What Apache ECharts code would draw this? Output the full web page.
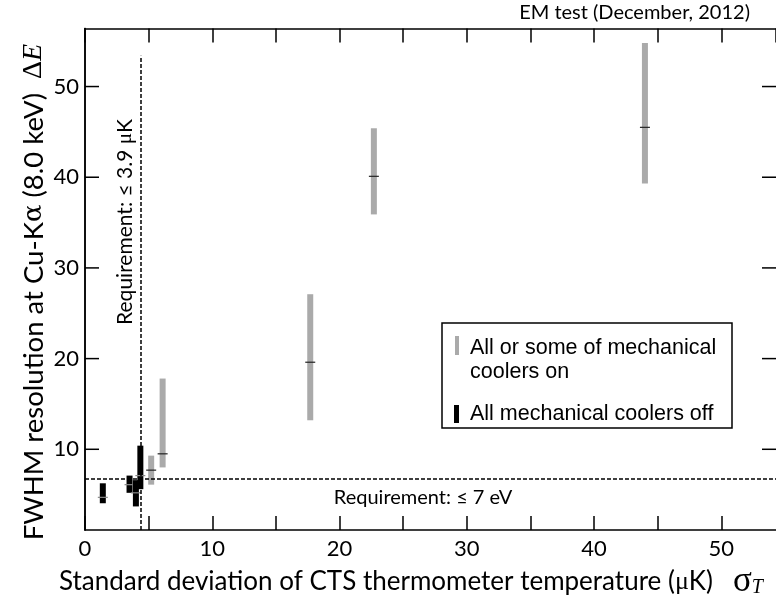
<!DOCTYPE html>
<html>
<head>
<meta charset="utf-8">
<script src="https://cdn.jsdelivr.net/npm/echarts@6/dist/echarts.min.js"></script>
<style>
html,body{margin:0;padding:0;background:#fff;}
#chart{width:776px;height:604px;}
</style>
</head>
<body>
<div id="chart"></div>
<script>
// ---- data ----
// mechanical coolers on (gray): x = sigma_T (uK), low/high/mid = Delta E (eV)
var grayX    = [5.2, 6.1, 17.7, 22.7, 44.0];
var grayLow  = [6.1, 8.0, 13.2, 35.9, 39.3];
var grayHigh = [9.3, 17.8, 27.1, 45.4, 54.8];
var grayMid  = [7.7, 9.5, 19.6, 40.1, 45.5];
// all mechanical coolers off (black)
var blackX    = [1.4, 3.5, 4.0, 4.35];
var blackLow  = [4.05, 5.2, 3.7, 5.6];
var blackHigh = [6.25, 7.1, 6.6, 10.4];
var blackMid  = [4.7, 6.1, 5.2, 7.1];
// requirements
var reqSigma = 4.35;   // vertical dashed line position
var reqSigmaTop = 53.4;
var reqDE = 6.8;       // horizontal dashed line position
// axes
var xMin = 0, xMax = 54.3, xTickStep = 5;
var yMin = 1.1, yMax = 56.4;
var yTicks = [10, 20, 30, 40, 50];

var chart = echarts.init(document.getElementById('chart'), null, {renderer: 'canvas'});

function makeData(xs, lo, hi, mid) {
  return xs.map(function (x, i) { return [x, lo[i], hi[i], mid[i]]; });
}
function barRenderer(fill, tick) {
  return function (params, api) {
    var x = api.value(0);
    var pLo = api.coord([x, api.value(1)]);
    var pHi = api.coord([x, api.value(2)]);
    var pMid = api.coord([x, api.value(3)]);
    return {
      type: 'group',
      children: [
        {type: 'rect', shape: {x: pLo[0] - 3, y: pHi[1], width: 6, height: pLo[1] - pHi[1]}, style: {fill: fill}},
        {type: 'line', shape: {x1: pMid[0] - 5, y1: pMid[1], x2: pMid[0] + 5, y2: pMid[1]}, style: {stroke: tick, lineWidth: 1.2}}
      ]
    };
  };
}
// inward y ticks on left and right frame, placed through the axis scale
function yTickRenderer(params, api) {
  var v = api.value(1);
  var pl = api.coord([xMin, v]);
  var pr = api.coord([xMax, v]);
  return {
    type: 'group',
    children: [
      {type: 'line', shape: {x1: pl[0], y1: pl[1], x2: pl[0] + 14, y2: pl[1]}, style: {stroke: '#000', lineWidth: 1.5}},
      {type: 'line', shape: {x1: pr[0] - 14, y1: pr[1], x2: pr[0], y2: pr[1]}, style: {stroke: '#000', lineWidth: 1.5}}
    ]
  };
}

var axisLineStyle = {color: '#000', width: 1.5};
var labelFont = {fontFamily: 'Lato', fontSize: 22, color: '#000'};

var option = {
  animation: false,
  backgroundColor: '#fff',
  grid: {left: 85, right: -5, top: 28.5, bottom: 74, containLabel: false},
  xAxis: [
    {type: 'value', position: 'bottom', min: xMin, max: xMax, interval: xTickStep,
     axisLine: {show: true, lineStyle: axisLineStyle},
     axisTick: {show: true, inside: true, length: 14, lineStyle: axisLineStyle},
     axisLabel: Object.assign({margin: 8, showMaxLabel: false,
       formatter: function (v) { return (Math.abs(v % 10) < 1e-9) ? String(v) : ''; }}, labelFont),
     splitLine: {show: false}},
    {type: 'value', position: 'top', min: xMin, max: xMax, interval: xTickStep,
     axisLine: {show: true, lineStyle: axisLineStyle},
     axisTick: {show: true, inside: true, length: 14, lineStyle: axisLineStyle},
     axisLabel: {show: false}, splitLine: {show: false}}
  ],
  yAxis: [
    {type: 'value', position: 'left', min: yMin, max: yMax,
     axisLine: {show: true, lineStyle: axisLineStyle},
     axisTick: {show: false},
     axisLabel: Object.assign({margin: 6, customValues: yTicks}, labelFont),
     splitLine: {show: false}},
    {type: 'value', position: 'right', min: yMin, max: yMax,
     axisLine: {show: true, lineStyle: axisLineStyle},
     axisTick: {show: false},
     axisLabel: {show: false}, splitLine: {show: false}}
  ],
  series: [
    {name: 'All or some of mechanical coolers on', type: 'custom', xAxisIndex: 0, yAxisIndex: 0,
     renderItem: barRenderer('#aaaaaa', '#222'), data: makeData(grayX, grayLow, grayHigh, grayMid),
     markLine: {
       silent: true, symbol: 'none', label: {show: false},
       lineStyle: {color: '#000', type: [4, 2], width: 1.5},
       data: [
         [{coord: [reqSigma, yMin]}, {coord: [reqSigma, reqSigmaTop]}],
         [{coord: [xMin, reqDE]}, {coord: [xMax, reqDE]}]
       ]
     }},
    {name: 'All mechanical coolers off', type: 'custom', xAxisIndex: 0, yAxisIndex: 0,
     renderItem: barRenderer('#000000', '#888'), data: makeData(blackX, blackLow, blackHigh, blackMid)},
    {name: 'yticks', type: 'custom', xAxisIndex: 0, yAxisIndex: 0, silent: true, clip: false,
     renderItem: yTickRenderer, data: yTicks.map(function (v) { return [xMin, v]; })}
  ],
  graphic: [
    {type: 'text', right: 26, top: 3, style: {text: 'EM test (December, 2012)', font: '20px Lato', fill: '#000'}},
    // y axis title
    {type: 'text', x: 34, y: 292, rotation: Math.PI / 2,
     style: {text: '{a|FWHM resolution at Cu-K}{g|α}{a| (8.0 keV)  }{d|Δ}{e|E}', align: 'center', verticalAlign: 'middle',
       rich: {
         a: {fontFamily: 'Lato', fontSize: 27.5, fill: '#000'},
         g: {fontFamily: 'DejaVu Serif', fontSize: 26, fill: '#000'},
         d: {fontFamily: 'Liberation Serif', fontSize: 28, fill: '#000'},
         e: {fontFamily: 'Liberation Serif', fontStyle: 'italic', fontSize: 28, fill: '#000'}
       }}},
    // x axis title
    {type: 'text', x: 411, y: 582,
     style: {text: '{a|Standard deviation of CTS thermometer temperature (}{m|μ}{a|K)   }{s|σ}{t|T}', align: 'center', verticalAlign: 'middle',
       rich: {
         a: {fontFamily: 'Lato', fontSize: 26, fill: '#000'},
         m: {fontFamily: 'Liberation Serif', fontSize: 26, fill: '#000'},
         s: {fontFamily: 'Liberation Serif', fontSize: 35, fill: '#000'},
         t: {fontFamily: 'Liberation Serif', fontStyle: 'italic', fontSize: 20, fill: '#000', padding: [12, 0, 0, 0]}
       }}},
    // requirement labels
    {type: 'text', x: 125, y: 222, rotation: Math.PI / 2,
     style: {text: '{a|Requirement: ≤ 3.9 }{m|μ}{a|K}', align: 'center', verticalAlign: 'middle',
       rich: {a: {fontFamily: 'Lato', fontSize: 21, fill: '#000'}, m: {fontFamily: 'Liberation Serif', fontSize: 21, fill: '#000'}}}},
    {type: 'text', x: 423, y: 498,
     style: {text: 'Requirement: ≤ 7 eV', font: '20px Lato', fill: '#000', align: 'center', verticalAlign: 'middle'}},
    // legend
    {type: 'rect', shape: {x: 442, y: 323, width: 290, height: 105}, style: {fill: '#fff', stroke: '#000', lineWidth: 1.5}, z: 10},
    {type: 'rect', shape: {x: 455, y: 336, width: 4, height: 19}, style: {fill: '#aaaaaa'}, z: 11},
    {type: 'text', x: 470, y: 348, style: {text: 'All or some of mechanical', font: '21.5px "Liberation Sans"', fill: '#000', verticalAlign: 'middle'}, z: 11},
    {type: 'text', x: 470, y: 372, style: {text: 'coolers on', font: '21.5px "Liberation Sans"', fill: '#000', verticalAlign: 'middle'}, z: 11},
    {type: 'rect', shape: {x: 454, y: 405, width: 5, height: 18}, style: {fill: '#000'}, z: 11},
    {type: 'text', x: 470, y: 414, style: {text: 'All mechanical coolers off', font: '21.5px "Liberation Sans"', fill: '#000', verticalAlign: 'middle'}, z: 11}
  ]
};
chart.setOption(option);
</script>
</body>
</html>
